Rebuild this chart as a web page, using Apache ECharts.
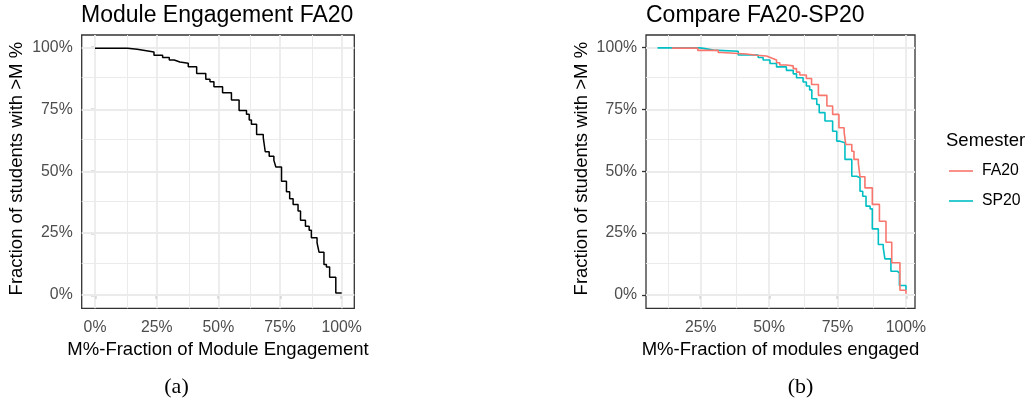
<!DOCTYPE html>
<html><head><meta charset="utf-8">
<script src="https://cdn.jsdelivr.net/npm/echarts@6/dist/echarts.min.js"></script>
<style>html,body{margin:0;padding:0;background:#fff;} #c{width:1033px;height:404px;}</style>
</head><body><div id="c"></div>
<script>
// ---- data ----
const moduleX = [0, 0.132, 0.171, 0.202, 0.239, 0.274, 0.301, 0.321, 0.344, 0.378, 0.412, 0.449, 0.466, 0.482, 0.517, 0.553, 0.584, 0.614, 0.625, 0.634, 0.655, 0.682, 0.690, 0.706, 0.725, 0.733, 0.756, 0.776, 0.789, 0.803, 0.823, 0.833, 0.853, 0.868, 0.877, 0.900, 0.908, 0.928, 0.938, 0.951, 0.976, 1.0];
const moduleY = [0.997, 0.993, 0.988, 0.982, 0.969, 0.960, 0.950, 0.942, 0.937, 0.923, 0.895, 0.872, 0.862, 0.842, 0.818, 0.788, 0.746, 0.731, 0.707, 0.690, 0.649, 0.636, 0.579, 0.561, 0.544, 0.517, 0.460, 0.417, 0.389, 0.366, 0.339, 0.302, 0.278, 0.262, 0.231, 0.211, 0.173, 0.123, 0.113, 0.072, 0.008, 0.008];

const fa20X = [0.144, 0.239, 0.314, 0.326, 0.417, 0.454, 0.490, 0.509, 0.527, 0.539, 0.563, 0.588, 0.600, 0.612, 0.636, 0.655, 0.680, 0.711, 0.732, 0.755, 0.774, 0.780, 0.802, 0.810, 0.826, 0.832, 0.850, 0.877, 0.903, 0.927, 0.948, 0.978, 1.0];
const fa20Y = [0.998, 0.989, 0.980, 0.974, 0.969, 0.966, 0.958, 0.950, 0.939, 0.930, 0.926, 0.915, 0.901, 0.889, 0.875, 0.851, 0.807, 0.764, 0.730, 0.676, 0.658, 0.608, 0.581, 0.548, 0.532, 0.478, 0.433, 0.366, 0.298, 0.213, 0.130, 0.019, 0.005];

const sp20X = [0.092, 0.247, 0.266, 0.296, 0.387, 0.460, 0.478, 0.503, 0.527, 0.563, 0.588, 0.600, 0.624, 0.636, 0.648, 0.656, 0.674, 0.683, 0.704, 0.732, 0.747, 0.756, 0.777, 0.802, 0.820, 0.832, 0.842, 0.854, 0.869, 0.877, 0.899, 0.917, 0.923, 0.945, 0.968, 0.976, 1.0];
const sp20Y = [0.999, 0.996, 0.990, 0.985, 0.970, 0.960, 0.950, 0.936, 0.922, 0.908, 0.894, 0.878, 0.861, 0.845, 0.829, 0.793, 0.770, 0.737, 0.703, 0.662, 0.622, 0.615, 0.548, 0.480, 0.474, 0.419, 0.399, 0.359, 0.348, 0.267, 0.204, 0.190, 0.146, 0.096, 0.089, 0.038, 0.020];

const majorTicks = [0, 0.25, 0.5, 0.75, 1];
const minorTicks = [0.125, 0.375, 0.625, 0.875];
const tickLabels = ['0%', '25%', '50%', '75%', '100%'];
const seriesNames = ['FA20', 'SP20'];

// ---- helpers ----
const pairs = (xs, ys) => xs.map((x, i) => [x, ys[i]]);
const fmt = v => { const i = majorTicks.findIndex(t => Math.abs(t - v) < 1e-9); return i >= 0 ? tickLabels[i] : ''; };
const FONT = 'Liberation Sans';
const GRID_COL = '#EBEBEB';
const gridMarks = (vals, w, key) => vals.map(v => ({ [key]: v, lineStyle: { width: w, color: GRID_COL, type: 'solid' } }));
const panelLines = (xMinVal) => ({
  silent: true, z: 1, symbol: ['none', 'none'], label: { show: false }, animation: false,
  emphasis: { disabled: true },
  data: [].concat(
    gridMarks(minorTicks.filter(v => v >= xMinVal), 1.0, 'xAxis'),
    gridMarks(minorTicks, 1.0, 'yAxis'),
    gridMarks(majorTicks.filter(v => v >= xMinVal), 1.8, 'xAxis'),
    gridMarks(majorTicks, 1.8, 'yAxis'))
});

const leftMin = -0.054, leftMax = 1.051;
const rightMin = 0.050, rightMax = 1.033;
const yMin = -0.054, yMax = 1.051;
const rightTicks = majorTicks.filter(v => v >= rightMin);

const xAxisBase = (gi, min, max, ticks, name) => ({
  gridIndex: gi, type: 'value', min, max,
  splitLine: { show: false }, axisLine: { show: false },
  axisTick: { show: true, customValues: ticks, length: 4, lineStyle: { color: '#333333', width: 1.3 } },
  axisLabel: { customValues: ticks, formatter: fmt, margin: 11.5, fontSize: 15.8, color: '#4D4D4D', fontFamily: FONT },
  name, nameLocation: 'middle', nameGap: 29.5,
  nameTextStyle: { fontSize: 18.5, color: '#000', fontFamily: FONT }
});
const yAxisBase = (gi) => ({
  gridIndex: gi, type: 'value', min: yMin, max: yMax,
  splitLine: { show: false }, axisLine: { show: false },
  axisTick: { show: true, customValues: majorTicks, length: 4, lineStyle: { color: '#333333', width: 1.3 } },
  axisLabel: { customValues: majorTicks, formatter: fmt, margin: 9, fontSize: 15.8, color: '#4D4D4D', fontFamily: FONT },
  name: 'Fraction of students with >M %', nameLocation: 'middle', nameGap: 55, nameRotate: 90,
  nameTextStyle: { fontSize: 18.5, color: '#000', fontFamily: FONT, padding: [0, 0, 0, 6] }
});

const chart = echarts.init(document.getElementById('c'));
chart.setOption({
  animation: false,
  backgroundColor: '#fff',
  title: [
    { text: 'Module Engagement FA20', left: 81, top: 4, padding: 0, textStyle: { fontSize: 23, fontWeight: 'normal', color: '#000', fontFamily: FONT } },
    { text: 'Compare FA20-SP20', left: 646, top: 4, padding: 0, textStyle: { fontSize: 23, fontWeight: 'normal', color: '#000', fontFamily: FONT } },
    { text: 'Semester', left: 946, top: 131, padding: 0, textStyle: { fontSize: 18.5, fontWeight: 'normal', color: '#000', fontFamily: FONT } }
  ],
  grid: [
    { left: 81.7, top: 35, width: 272.6, height: 273.3, show: true, borderColor: '#333333', borderWidth: 1.3, backgroundColor: 'transparent' },
    { left: 646, top: 35, width: 269, height: 273.3, show: true, borderColor: '#333333', borderWidth: 1.3, backgroundColor: 'transparent' }
  ],
  xAxis: [
    xAxisBase(0, leftMin, leftMax, majorTicks, 'M%-Fraction of Module Engagement'),
    xAxisBase(1, rightMin, rightMax, rightTicks, 'M%-Fraction of modules engaged')
  ],
  yAxis: [yAxisBase(0), yAxisBase(1)],
  legend: {
    orient: 'vertical', left: 949, top: 163, padding: 0, icon: 'rect',
    itemWidth: 24, itemHeight: 1.6, itemGap: 14,
    data: seriesNames,
    textStyle: { fontSize: 15.8, color: '#000', fontFamily: FONT, padding: [0, 0, 0, 4] },
    selectedMode: false
  },
  series: [
    { name: 'Module', type: 'line', step: 'end', xAxisIndex: 0, yAxisIndex: 0, showSymbol: false, symbol: 'none',
      data: pairs(moduleX, moduleY), color: '#000', lineStyle: { color: '#000', width: 1.5 }, z: 3,
      markLine: panelLines(leftMin) },
    { name: seriesNames[1], type: 'line', step: 'end', xAxisIndex: 1, yAxisIndex: 1, showSymbol: false, symbol: 'none',
      data: pairs(sp20X, sp20Y), color: '#00BFC4', lineStyle: { color: '#00BFC4', width: 1.6 }, z: 3,
      markLine: panelLines(rightMin) },
    { name: seriesNames[0], type: 'line', step: 'end', xAxisIndex: 1, yAxisIndex: 1, showSymbol: false, symbol: 'none',
      data: pairs(fa20X, fa20Y), color: '#F8766D', lineStyle: { color: '#F8766D', width: 1.6 }, z: 4 }
  ],
  graphic: [
    { type: 'text', x: 176.5, y: 387, style: { text: '(a)', fontSize: 22, fontFamily: 'Liberation Serif', fill: '#000', align: 'center', verticalAlign: 'middle', textAlign: 'center', textVerticalAlign: 'middle' } },
    { type: 'text', x: 800.5, y: 387.5, style: { text: '(b)', fontSize: 22, fontFamily: 'Liberation Serif', fill: '#000', align: 'center', verticalAlign: 'middle', textAlign: 'center', textVerticalAlign: 'middle' } }
  ]
});
</script></body></html>
